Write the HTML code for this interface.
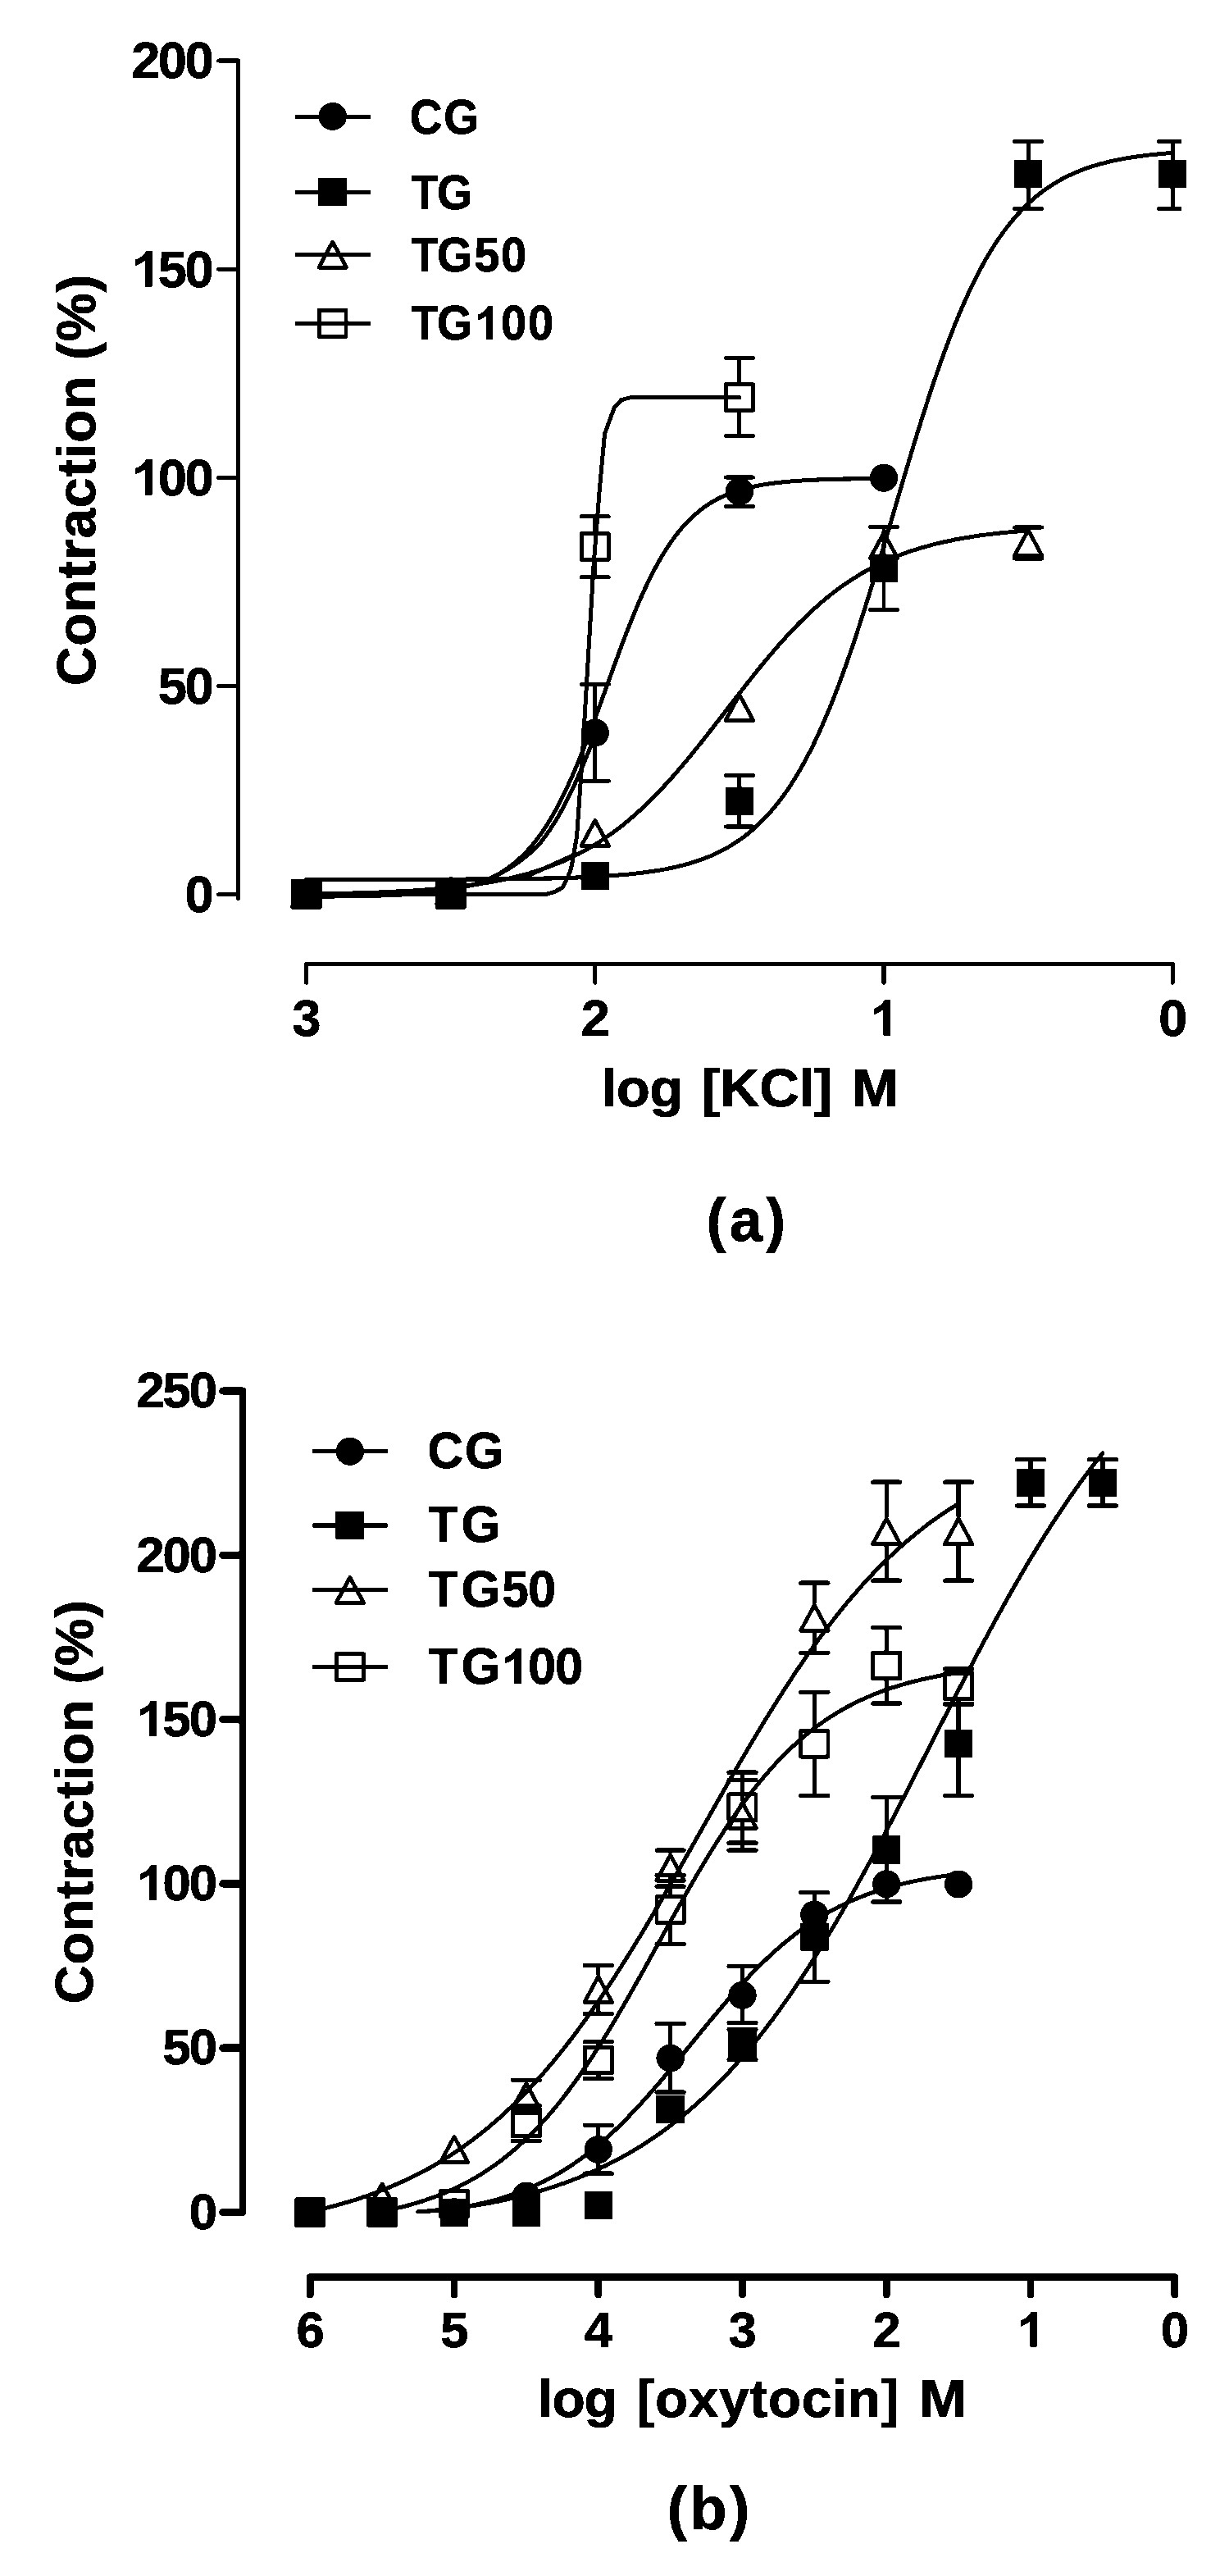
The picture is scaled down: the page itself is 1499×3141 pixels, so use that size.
<!DOCTYPE html>
<html><head><meta charset="utf-8"><title>Figure</title>
<style>html,body{margin:0;padding:0;background:#fff}body{width:1499px;height:3141px;overflow:hidden;font-family:"Liberation Sans",sans-serif}</style>
</head><body>
<svg width="1499" height="3141" viewBox="0 0 1499 3141" style="display:block" font-family="Liberation Sans, sans-serif" font-weight="bold" fill="#000" stroke="#000">
<rect width="1499" height="3141" fill="#fff" stroke="none"/>
<defs><filter id="bw" filterUnits="userSpaceOnUse" x="0" y="0" width="1499" height="3141" color-interpolation-filters="sRGB"><feComponentTransfer><feFuncR type="discrete" tableValues="0 1"/><feFuncG type="discrete" tableValues="0 1"/><feFuncB type="discrete" tableValues="0 1"/></feComponentTransfer></filter></defs>
<g filter="url(#bw)">
<rect width="1499" height="3141" fill="#fff" stroke="none"/>
<g id="A">
<line x1="290.65" y1="74" x2="290.65" y2="1095.4" stroke-width="5" stroke-linecap="round"/>
<line x1="266.6" y1="74" x2="290.65" y2="74" stroke-width="5" stroke-linecap="round"/>
<line x1="266.6" y1="328.2" x2="290.65" y2="328.2" stroke-width="5" stroke-linecap="round"/>
<line x1="266.6" y1="582.4" x2="290.65" y2="582.4" stroke-width="5" stroke-linecap="round"/>
<line x1="266.6" y1="836.6" x2="290.65" y2="836.6" stroke-width="5" stroke-linecap="round"/>
<line x1="266.6" y1="1090.8" x2="290.65" y2="1090.8" stroke-width="5" stroke-linecap="round"/>
<line x1="373.6" y1="1175.6" x2="1430.2" y2="1175.6" stroke-width="5" stroke-linecap="round"/>
<line x1="373.6" y1="1175.6" x2="373.6" y2="1198.3" stroke-width="5" stroke-linecap="round"/>
<line x1="725.8" y1="1175.6" x2="725.8" y2="1198.3" stroke-width="5" stroke-linecap="round"/>
<line x1="1078" y1="1175.6" x2="1078" y2="1198.3" stroke-width="5" stroke-linecap="round"/>
<line x1="1430.2" y1="1175.6" x2="1430.2" y2="1198.3" stroke-width="5" stroke-linecap="round"/>
<text transform="matrix(0.6320 0 0 0.6320 160.30 95.40)" font-size="100" stroke="#000" stroke-width="1.42" stroke-linejoin="round">2</text>
<text transform="matrix(0.6320 0 0 0.6320 192.85 95.40)" font-size="100" stroke="#000" stroke-width="1.42" stroke-linejoin="round">0</text>
<text transform="matrix(0.6320 0 0 0.6320 225.40 95.40)" font-size="100" stroke="#000" stroke-width="1.42" stroke-linejoin="round">0</text>
<path d="M185.63 349.60 L176.56 349.60 L176.56 318.02 Q171.60 322.32 164.85 324.37 L164.85 316.77 Q168.40 315.70 172.56 312.70 Q176.72 309.70 178.27 305.70 L185.63 305.70Z" stroke="none"/>
<text transform="matrix(0.6320 0 0 0.6320 192.85 349.60)" font-size="100" stroke="#000" stroke-width="1.42" stroke-linejoin="round">5</text>
<text transform="matrix(0.6320 0 0 0.6320 225.40 349.60)" font-size="100" stroke="#000" stroke-width="1.42" stroke-linejoin="round">0</text>
<path d="M185.63 603.80 L176.56 603.80 L176.56 572.22 Q171.60 576.52 164.85 578.57 L164.85 570.97 Q168.40 569.90 172.56 566.90 Q176.72 563.90 178.27 559.90 L185.63 559.90Z" stroke="none"/>
<text transform="matrix(0.6320 0 0 0.6320 192.85 603.80)" font-size="100" stroke="#000" stroke-width="1.42" stroke-linejoin="round">0</text>
<text transform="matrix(0.6320 0 0 0.6320 225.40 603.80)" font-size="100" stroke="#000" stroke-width="1.42" stroke-linejoin="round">0</text>
<text transform="matrix(0.6320 0 0 0.6320 192.85 858.00)" font-size="100" stroke="#000" stroke-width="1.42" stroke-linejoin="round">5</text>
<text transform="matrix(0.6320 0 0 0.6320 225.40 858.00)" font-size="100" stroke="#000" stroke-width="1.42" stroke-linejoin="round">0</text>
<text transform="matrix(0.6320 0 0 0.6320 225.40 1112.20)" font-size="100" stroke="#000" stroke-width="1.42" stroke-linejoin="round">0</text>
<text transform="matrix(0.6275 0 0 0.6275 356.60 1262.60)" font-size="100" stroke="#000" stroke-width="1.43" stroke-linejoin="round">3</text>
<text transform="matrix(0.6275 0 0 0.6275 708.80 1262.60)" font-size="100" stroke="#000" stroke-width="1.43" stroke-linejoin="round">2</text>
<path d="M1086.15 1262.60 L1077.14 1262.60 L1077.14 1231.24 Q1072.21 1235.50 1065.51 1237.55 L1065.51 1230.00 Q1069.04 1228.93 1073.17 1225.95 Q1077.30 1222.98 1078.84 1219.01 L1086.15 1219.01Z" stroke="none"/>
<text transform="matrix(0.6275 0 0 0.6275 1413.20 1262.60)" font-size="100" stroke="#000" stroke-width="1.43" stroke-linejoin="round">0</text>
<text transform="matrix(0 -0.6625 0.6625 0 116.00 836.20)" font-size="100" letter-spacing="0.895" stroke="#000" stroke-width="1.36" stroke-linejoin="round">Contraction (%)</text>
<text transform="matrix(0.6721 0 0 0.6525 733.55 1348.60)" font-size="100" letter-spacing="-0.722" stroke="#000" stroke-width="1.36" stroke-linejoin="round">log</text>
<text transform="matrix(0.6721 0 0 0.6525 855.75 1348.60)" font-size="100" letter-spacing="-0.359" stroke="#000" stroke-width="1.36" stroke-linejoin="round">[KCl]</text>
<text transform="matrix(0.6910 0 0 0.6525 1038.69 1348.60)" font-size="100" stroke="#000" stroke-width="1.34" stroke-linejoin="round">M</text>
<text transform="matrix(0.7154 0 0 0.7375 861.67 1512.60)" font-size="100" letter-spacing="6.290" stroke="#000" stroke-width="1.24" stroke-linejoin="round">(a)</text>
<line x1="360" y1="142.3" x2="452.05" y2="142.3" stroke-width="5" stroke-linecap="butt"/>
<ellipse cx="405.7" cy="141.9" rx="17.2" ry="17" stroke="none"/>
<line x1="360" y1="234.3" x2="452.05" y2="234.3" stroke-width="5" stroke-linecap="butt"/>
<rect x="388.25" y="217.1" width="34.9" height="33.8" stroke="none"/>
<line x1="360" y1="310.5" x2="452.05" y2="310.5" stroke-width="5" stroke-linecap="butt"/>
<polygon points="405.7,295 422.55,326.2 388.85,326.2" fill="none" stroke-width="4.8" stroke-linejoin="round"/>
<line x1="360" y1="394.3" x2="452.05" y2="394.3" stroke-width="5" stroke-linecap="butt"/>
<rect x="389.3" y="378.2" width="32.8" height="32.2" fill="none" stroke-width="4.8" stroke-linejoin="round"/>
<text transform="matrix(0.5481 0 0 0.5845 499.76 162.70)" font-size="100" stroke="#000" stroke-width="1.59" stroke-linejoin="round">C</text>
<text transform="matrix(0.5556 0 0 0.5845 541.13 162.70)" font-size="100" stroke="#000" stroke-width="1.58" stroke-linejoin="round">G</text>
<text transform="matrix(0.5356 0 0 0.5845 501.41 254.70)" font-size="100" stroke="#000" stroke-width="1.61" stroke-linejoin="round">T</text>
<text transform="matrix(0.5585 0 0 0.5845 533.12 254.70)" font-size="100" stroke="#000" stroke-width="1.58" stroke-linejoin="round">G</text>
<text transform="matrix(0.5356 0 0 0.5845 501.41 330.70)" font-size="100" stroke="#000" stroke-width="1.61" stroke-linejoin="round">T</text>
<text transform="matrix(0.5585 0 0 0.5845 533.12 330.70)" font-size="100" stroke="#000" stroke-width="1.58" stroke-linejoin="round">G</text>
<text transform="matrix(0.5548 0 0 0.5845 578.49 330.70)" font-size="100" stroke="#000" stroke-width="1.58" stroke-linejoin="round">5</text>
<text transform="matrix(0.5600 0 0 0.5845 611.01 330.70)" font-size="100" stroke="#000" stroke-width="1.57" stroke-linejoin="round">0</text>
<text transform="matrix(0.5356 0 0 0.5845 501.41 414.20)" font-size="100" stroke="#000" stroke-width="1.61" stroke-linejoin="round">T</text>
<text transform="matrix(0.5585 0 0 0.5845 533.12 414.20)" font-size="100" stroke="#000" stroke-width="1.58" stroke-linejoin="round">G</text>
<path d="M601.40 414.20 L593.28 414.20 L593.28 384.97 Q588.84 388.94 582.80 390.85 L582.80 383.81 Q585.98 382.81 589.70 380.04 Q593.43 377.26 594.81 373.57 L601.40 373.57Z" stroke="none"/>
<text transform="matrix(0.5600 0 0 0.5845 611.01 414.20)" font-size="100" stroke="#000" stroke-width="1.57" stroke-linejoin="round">0</text>
<text transform="matrix(0.5579 0 0 0.5845 643.92 414.20)" font-size="100" stroke="#000" stroke-width="1.58" stroke-linejoin="round">0</text>
<line x1="725.8" y1="629.8" x2="725.8" y2="648.5" stroke-width="5" stroke-linecap="butt"/>
<line x1="709.3" y1="629.8" x2="742.3" y2="629.8" stroke-width="5" stroke-linecap="round"/>
<line x1="725.8" y1="684.5" x2="725.8" y2="703.7" stroke-width="5" stroke-linecap="butt"/>
<line x1="709.3" y1="703.7" x2="742.3" y2="703.7" stroke-width="5" stroke-linecap="round"/>
<line x1="901.9" y1="436.5" x2="901.9" y2="466.5" stroke-width="5" stroke-linecap="butt"/>
<line x1="885.4" y1="436.5" x2="918.4" y2="436.5" stroke-width="5" stroke-linecap="round"/>
<line x1="901.9" y1="502.5" x2="901.9" y2="531.4" stroke-width="5" stroke-linecap="butt"/>
<line x1="885.4" y1="531.4" x2="918.4" y2="531.4" stroke-width="5" stroke-linecap="round"/>
<rect x="357" y="1074.5" width="33.2" height="31.8" fill="none" stroke-width="4.8" stroke-linejoin="round"/>
<rect x="533.1" y="1074.5" width="33.2" height="31.8" fill="none" stroke-width="4.8" stroke-linejoin="round"/>
<rect x="709.2" y="650.6" width="33.2" height="31.8" fill="none" stroke-width="4.8" stroke-linejoin="round"/>
<rect x="885.3" y="468.6" width="33.2" height="31.8" fill="none" stroke-width="4.8" stroke-linejoin="round"/>
<line x1="1254.1" y1="642.9" x2="1254.1" y2="644.5" stroke-width="5" stroke-linecap="butt"/>
<line x1="1237.6" y1="642.9" x2="1270.6" y2="642.9" stroke-width="5" stroke-linecap="round"/>
<line x1="1254.1" y1="679.5" x2="1254.1" y2="681" stroke-width="5" stroke-linecap="butt"/>
<line x1="1237.6" y1="681" x2="1270.6" y2="681" stroke-width="5" stroke-linecap="round"/>
<polygon points="373.6,1074.8 390.45,1106 356.75,1106" fill="none" stroke-width="4.8" stroke-linejoin="round"/>
<polygon points="549.7,1070.9 566.55,1102.1 532.85,1102.1" fill="none" stroke-width="4.8" stroke-linejoin="round"/>
<polygon points="725.8,1000.3 742.65,1031.5 708.95,1031.5" fill="none" stroke-width="4.8" stroke-linejoin="round"/>
<polygon points="901.9,847.2 918.75,878.4 885.05,878.4" fill="none" stroke-width="4.8" stroke-linejoin="round"/>
<polygon points="1078,649.6 1094.85,680.8 1061.15,680.8" fill="none" stroke-width="4.8" stroke-linejoin="round"/>
<polygon points="1254.1,646.4 1270.95,677.6 1237.25,677.6" fill="none" stroke-width="4.8" stroke-linejoin="round"/>
<line x1="901.9" y1="945.4" x2="901.9" y2="960.3" stroke-width="5" stroke-linecap="butt"/>
<line x1="885.4" y1="945.4" x2="918.4" y2="945.4" stroke-width="5" stroke-linecap="round"/>
<line x1="901.9" y1="993.3" x2="901.9" y2="1008.1" stroke-width="5" stroke-linecap="butt"/>
<line x1="885.4" y1="1008.1" x2="918.4" y2="1008.1" stroke-width="5" stroke-linecap="round"/>
<line x1="1078" y1="642.2" x2="1078" y2="676.35" stroke-width="5" stroke-linecap="butt"/>
<line x1="1061.5" y1="642.2" x2="1094.5" y2="642.2" stroke-width="5" stroke-linecap="round"/>
<line x1="1078" y1="709.35" x2="1078" y2="743.5" stroke-width="5" stroke-linecap="butt"/>
<line x1="1061.5" y1="743.5" x2="1094.5" y2="743.5" stroke-width="5" stroke-linecap="round"/>
<line x1="1254.1" y1="172.4" x2="1254.1" y2="195.9" stroke-width="5" stroke-linecap="butt"/>
<line x1="1237.6" y1="172.4" x2="1270.6" y2="172.4" stroke-width="5" stroke-linecap="round"/>
<line x1="1254.1" y1="228.9" x2="1254.1" y2="254.4" stroke-width="5" stroke-linecap="butt"/>
<line x1="1237.6" y1="254.4" x2="1270.6" y2="254.4" stroke-width="5" stroke-linecap="round"/>
<line x1="1430.2" y1="172.4" x2="1430.2" y2="195.9" stroke-width="5" stroke-linecap="butt"/>
<line x1="1413.7" y1="172.4" x2="1441" y2="172.4" stroke-width="5" stroke-linecap="butt"/>
<line x1="1413.7" y1="172.4" x2="1414.7" y2="172.4" stroke-width="5" stroke-linecap="round"/>
<line x1="1430.2" y1="228.9" x2="1430.2" y2="254.4" stroke-width="5" stroke-linecap="butt"/>
<line x1="1413.7" y1="254.4" x2="1441" y2="254.4" stroke-width="5" stroke-linecap="butt"/>
<line x1="1413.7" y1="254.4" x2="1414.7" y2="254.4" stroke-width="5" stroke-linecap="round"/>
<rect x="356.4" y="1073.4" width="34.4" height="34" stroke="none"/>
<rect x="532.5" y="1073.4" width="34.4" height="34" stroke="none"/>
<rect x="708.6" y="1051" width="34.4" height="34" stroke="none"/>
<rect x="884.7" y="959.8" width="34.4" height="34" stroke="none"/>
<rect x="1060.8" y="675.85" width="34.4" height="34" stroke="none"/>
<rect x="1236.9" y="195.4" width="34.4" height="34" stroke="none"/>
<rect x="1413" y="195.4" width="34.4" height="34" stroke="none"/>
<line x1="725.8" y1="834.3" x2="725.8" y2="876.9" stroke-width="5" stroke-linecap="butt"/>
<line x1="709.3" y1="834.3" x2="742.3" y2="834.3" stroke-width="5" stroke-linecap="round"/>
<line x1="725.8" y1="909.9" x2="725.8" y2="952.2" stroke-width="5" stroke-linecap="butt"/>
<line x1="709.3" y1="952.2" x2="742.3" y2="952.2" stroke-width="5" stroke-linecap="round"/>
<line x1="901.9" y1="581.9" x2="901.9" y2="582.8" stroke-width="5" stroke-linecap="butt"/>
<line x1="885.4" y1="581.9" x2="918.4" y2="581.9" stroke-width="5" stroke-linecap="round"/>
<line x1="901.9" y1="615.8" x2="901.9" y2="617.6" stroke-width="5" stroke-linecap="butt"/>
<line x1="885.4" y1="617.6" x2="918.4" y2="617.6" stroke-width="5" stroke-linecap="round"/>
<ellipse cx="373.6" cy="1090.4" rx="17.2" ry="17" stroke="none"/>
<ellipse cx="549.7" cy="1090.4" rx="17.2" ry="17" stroke="none"/>
<ellipse cx="725.8" cy="893.4" rx="17.2" ry="17" stroke="none"/>
<ellipse cx="901.9" cy="599.3" rx="17.2" ry="17" stroke="none"/>
<ellipse cx="1078" cy="582.8" rx="17.2" ry="17" stroke="none"/>
<polyline fill="none" stroke-width="5" stroke-linejoin="round" stroke-linecap="round" points="373.2,1072.42 376.73,1072.42 380.26,1072.42 383.8,1072.41 387.33,1072.41 390.86,1072.41 394.39,1072.41 397.92,1072.41 401.45,1072.41 404.99,1072.41 408.52,1072.41 412.05,1072.4 415.58,1072.4 419.11,1072.4 422.64,1072.4 426.18,1072.4 429.71,1072.4 433.24,1072.39 436.77,1072.39 440.3,1072.39 443.84,1072.39 447.37,1072.38 450.9,1072.38 454.43,1072.38 457.96,1072.37 461.49,1072.37 465.03,1072.37 468.56,1072.36 472.09,1072.36 475.62,1072.36 479.15,1072.35 482.68,1072.35 486.22,1072.34 489.75,1072.34 493.28,1072.33 496.81,1072.33 500.34,1072.32 503.88,1072.32 507.41,1072.31 510.94,1072.3 514.47,1072.3 518,1072.29 521.53,1072.28 525.07,1072.27 528.6,1072.26 532.13,1072.25 535.66,1072.24 539.19,1072.23 542.73,1072.22 546.26,1072.21 549.79,1072.2 553.32,1072.18 556.85,1072.17 560.38,1072.16 563.92,1072.14 567.45,1072.12 570.98,1072.11 574.51,1072.09 578.04,1072.07 581.57,1072.05 585.11,1072.03 588.64,1072.01 592.17,1071.98 595.7,1071.96 599.23,1071.93 602.77,1071.9 606.3,1071.87 609.83,1071.84 613.36,1071.81 616.89,1071.78 620.42,1071.74 623.96,1071.7 627.49,1071.66 631.02,1071.62 634.55,1071.57 638.08,1071.53 641.61,1071.48 645.15,1071.42 648.68,1071.37 652.21,1071.31 655.74,1071.24 659.27,1071.18 662.81,1071.11 666.34,1071.04 669.87,1070.96 673.4,1070.88 676.93,1070.79 680.46,1070.7 684,1070.61 687.53,1070.5 691.06,1070.4 694.59,1070.29 698.12,1070.17 701.65,1070.04 705.19,1069.91 708.72,1069.77 712.25,1069.62 715.78,1069.47 719.31,1069.3 722.85,1069.13 726.38,1068.95 729.91,1068.76 733.44,1068.56 736.97,1068.34 740.5,1068.12 744.04,1067.88 747.57,1067.63 751.1,1067.36 754.63,1067.08 758.16,1066.79 761.69,1066.48 765.23,1066.15 768.76,1065.81 772.29,1065.44 775.82,1065.06 779.35,1064.65 782.89,1064.23 786.42,1063.77 789.95,1063.3 793.48,1062.8 797.01,1062.27 800.54,1061.72 804.08,1061.13 807.61,1060.51 811.14,1059.86 814.67,1059.18 818.2,1058.45 821.74,1057.69 825.27,1056.89 828.8,1056.04 832.33,1055.15 835.86,1054.22 839.39,1053.23 842.93,1052.19 846.46,1051.1 849.99,1049.94 853.52,1048.73 857.05,1047.45 860.58,1046.11 864.12,1044.7 867.65,1043.21 871.18,1041.65 874.71,1040.01 878.24,1038.28 881.78,1036.47 885.31,1034.56 888.84,1032.55 892.37,1030.45 895.9,1028.24 899.43,1025.92 902.97,1023.48 906.5,1020.93 910.03,1018.25 913.56,1015.44 917.09,1012.5 920.62,1009.41 924.16,1006.18 927.69,1002.8 931.22,999.26 934.75,995.55 938.28,991.68 941.82,987.63 945.35,983.41 948.88,978.99 952.41,974.39 955.94,969.58 959.47,964.58 963.01,959.36 966.54,953.93 970.07,948.28 973.6,942.41 977.13,936.3 980.66,929.97 984.2,923.4 987.73,916.59 991.26,909.53 994.79,902.24 998.32,894.69 1001.86,886.89 1005.39,878.85 1008.92,870.56 1012.45,862.02 1015.98,853.23 1019.51,844.2 1023.05,834.93 1026.58,825.42 1030.11,815.68 1033.64,805.71 1037.17,795.53 1040.71,785.14 1044.24,774.55 1047.77,763.77 1051.3,752.8 1054.83,741.67 1058.36,730.38 1061.9,718.95 1065.43,707.4 1068.96,695.73 1072.49,683.96 1076.02,672.11 1079.55,660.2 1083.09,648.24 1086.62,636.24 1090.15,624.24 1093.68,612.24 1097.21,600.25 1100.75,588.31 1104.28,576.43 1107.81,564.61 1111.34,552.89 1114.87,541.27 1118.4,529.77 1121.94,518.4 1125.47,507.18 1129,496.13 1132.53,485.24 1136.06,474.55 1139.59,464.05 1143.13,453.75 1146.66,443.66 1150.19,433.8 1153.72,424.17 1157.25,414.77 1160.79,405.61 1164.32,396.68 1167.85,388.01 1171.38,379.58 1174.91,371.4 1178.44,363.47 1181.98,355.79 1185.51,348.36 1189.04,341.17 1192.57,334.23 1196.1,327.53 1199.63,321.06 1203.17,314.84 1206.7,308.84 1210.23,303.07 1213.76,297.52 1217.29,292.19 1220.83,287.07 1224.36,282.15 1227.89,277.44 1231.42,272.92 1234.95,268.6 1238.48,264.45 1242.02,260.48 1245.55,256.69 1249.08,253.06 1252.61,249.59 1256.14,246.28 1259.67,243.12 1263.21,240.1 1266.74,237.21 1270.27,234.47 1273.8,231.84 1277.33,229.34 1280.87,226.96 1284.4,224.69 1287.93,222.53 1291.46,220.47 1294.99,218.51 1298.52,216.65 1302.06,214.87 1305.59,213.19 1309.12,211.58 1312.65,210.05 1316.18,208.6 1319.72,207.22 1323.25,205.91 1326.78,204.66 1330.31,203.48 1333.84,202.35 1337.37,201.28 1340.91,200.27 1344.44,199.3 1347.97,198.39 1351.5,197.52 1355.03,196.69 1358.56,195.91 1362.1,195.17 1365.63,194.46 1369.16,193.79 1372.69,193.16 1376.22,192.55 1379.76,191.98 1383.29,191.44 1386.82,190.92 1390.35,190.43 1393.88,189.97 1397.41,189.53 1400.95,189.11 1404.48,188.72 1408.01,188.34 1411.54,187.99 1415.07,187.65 1418.6,187.33 1422.14,187.03 1425.67,186.74 1429.2,186.47"/>
<polyline fill="none" stroke-width="5" stroke-linejoin="round" stroke-linecap="round" points="373.2,1093.08 376.74,1093.07 380.28,1093.05 383.81,1093.04 387.35,1093.02 390.89,1093 394.43,1092.98 397.96,1092.96 401.5,1092.93 405.04,1092.91 408.58,1092.88 412.11,1092.85 415.65,1092.81 419.19,1092.78 422.73,1092.74 426.27,1092.7 429.8,1092.65 433.34,1092.61 436.88,1092.55 440.42,1092.5 443.95,1092.44 447.49,1092.37 451.03,1092.3 454.57,1092.22 458.1,1092.14 461.64,1092.05 465.18,1091.96 468.72,1091.85 472.26,1091.74 475.79,1091.62 479.33,1091.49 482.87,1091.35 486.41,1091.19 489.94,1091.03 493.48,1090.85 497.02,1090.66 500.56,1090.45 504.09,1090.23 507.63,1089.99 511.17,1089.73 514.71,1089.45 518.25,1089.15 521.78,1088.82 525.32,1088.47 528.86,1088.09 532.4,1087.68 535.93,1087.24 539.47,1086.76 543.01,1086.25 546.55,1085.7 550.08,1085.1 553.62,1084.46 557.16,1083.77 560.7,1083.03 564.24,1082.23 567.77,1081.37 571.31,1080.44 574.85,1079.44 578.39,1078.37 581.92,1077.22 585.46,1075.98 589,1074.65 592.54,1073.22 596.07,1071.68 599.61,1070.03 603.15,1068.27 606.69,1066.37 610.23,1064.35 613.76,1062.17 617.3,1059.85 620.84,1057.37 624.38,1054.71 627.91,1051.88 631.45,1048.86 634.99,1045.64 638.53,1042.21 642.06,1038.57 645.6,1034.7 649.14,1030.59 652.68,1026.24 656.22,1021.63 659.75,1016.76 663.29,1011.62 666.83,1006.21 670.37,1000.51 673.9,994.53 677.44,988.26 680.98,981.7 684.52,974.84 688.05,967.71 691.59,960.28 695.13,952.58 698.67,944.61 702.21,936.38 705.74,927.9 709.28,919.18 712.82,910.26 716.36,901.13 719.89,891.84 723.43,882.39 726.97,872.81 730.51,863.13 734.04,853.38 737.58,843.59 741.12,833.78 744.66,823.98 748.19,814.22 751.73,804.54 755.27,794.95 758.81,785.49 762.35,776.17 765.88,767.03 769.42,758.08 772.96,749.35 776.5,740.85 780.03,732.59 783.57,724.59 787.11,716.86 790.65,709.41 794.18,702.24 797.72,695.36 801.26,688.77 804.8,682.47 808.34,676.46 811.87,670.74 815.41,665.3 818.95,660.13 822.49,655.23 826.02,650.6 829.56,646.22 833.1,642.09 836.64,638.2 840.17,634.53 843.71,631.08 847.25,627.84 850.79,624.8 854.33,621.95 857.86,619.28 861.4,616.78 864.94,614.44 868.48,612.25 872.01,610.21 875.55,608.31 879.09,606.53 882.63,604.87 886.16,603.32 889.7,601.88 893.24,600.54 896.78,599.29 900.32,598.13 903.85,597.05 907.39,596.05 910.93,595.11 914.47,594.24 918,593.44 921.54,592.69 925.08,591.99 928.62,591.35 932.15,590.75 935.69,590.19 939.23,589.68 942.77,589.2 946.31,588.75 949.84,588.34 953.38,587.96 956.92,587.6 960.46,587.28 963.99,586.97 967.53,586.69 971.07,586.43 974.61,586.18 978.14,585.96 981.68,585.75 985.22,585.56 988.76,585.38 992.3,585.21 995.83,585.06 999.37,584.92 1002.91,584.79 1006.45,584.66 1009.98,584.55 1013.52,584.45 1017.06,584.35 1020.6,584.26 1024.13,584.18 1027.67,584.1 1031.21,584.03 1034.75,583.96 1038.29,583.9 1041.82,583.84 1045.36,583.79 1048.9,583.74 1052.44,583.7 1055.97,583.65 1059.51,583.62 1063.05,583.58 1066.59,583.55 1070.12,583.52 1073.66,583.49 1077.2,583.46"/>
<polyline fill="none" stroke-width="5" stroke-linejoin="round" stroke-linecap="round" points="596.13,1071.68 599.98,1070.03 603.85,1068.27 607.74,1066.37 611.66,1064.35 615.61,1062.17 619.58,1059.85 623.58,1057.37 627.62,1054.71 631.69,1051.88 635.79,1048.86 639.93,1045.64 644.11,1042.21 648.33,1038.57 652.6,1034.7 656.64,1030.59 660.18,1026.24 663.72,1021.63 667.25,1016.76 670.79,1011.62 674.33,1006.21 677.87,1000.51 681.4,994.53 684.94,988.26 688.48,981.7 692.02,974.84 695.55,967.71 699.09,960.28 702.63,952.58 706.17,944.61 709.71,936.38 713.24,927.9 716.78,919.18 720.32,910.26 723.86,901.13"/>
<polyline fill="none" stroke-width="5" stroke-linejoin="round" stroke-linecap="round" points="373.2,1090.18 376.73,1090.13 380.27,1090.08 383.8,1090.03 387.34,1089.97 390.87,1089.91 394.4,1089.85 397.94,1089.78 401.47,1089.71 405.01,1089.64 408.54,1089.57 412.08,1089.49 415.61,1089.41 419.14,1089.33 422.68,1089.24 426.21,1089.15 429.75,1089.06 433.28,1088.96 436.81,1088.86 440.35,1088.76 443.88,1088.65 447.42,1088.53 450.95,1088.42 454.49,1088.29 458.02,1088.16 461.55,1088.03 465.09,1087.89 468.62,1087.74 472.16,1087.59 475.69,1087.44 479.22,1087.27 482.76,1087.1 486.29,1086.92 489.83,1086.74 493.36,1086.55 496.89,1086.35 500.43,1086.14 503.96,1085.92 507.5,1085.7 511.03,1085.46 514.57,1085.22 518.1,1084.97 521.63,1084.7 525.17,1084.43 528.7,1084.14 532.24,1083.85 535.77,1083.54 539.3,1083.22 542.84,1082.88 546.37,1082.54 549.91,1082.17 553.44,1081.8 556.98,1081.41 560.51,1081 564.04,1080.58 567.58,1080.14 571.11,1079.69 574.65,1079.21 578.18,1078.72 581.71,1078.21 585.25,1077.68 588.78,1077.13 592.32,1076.55 595.85,1075.96 599.38,1075.34 602.92,1074.69 606.45,1074.03 609.99,1073.33 613.52,1072.61 617.06,1071.87 620.59,1071.09 624.12,1070.29 627.66,1069.45 631.19,1068.59 634.73,1067.69 638.26,1066.76 641.79,1065.8 645.33,1064.79 648.86,1063.76 652.4,1062.68 655.93,1061.57 659.47,1060.41 663,1059.22 666.53,1057.98 670.07,1056.7 673.6,1055.38 677.14,1054 680.67,1052.58 684.2,1051.12 687.74,1049.6 691.27,1048.03 694.81,1046.41 698.34,1044.73 701.87,1043 705.41,1041.22 708.94,1039.37 712.48,1037.47 716.01,1035.51 719.55,1033.49 723.08,1031.4 726.61,1029.25 730.15,1027.04 733.68,1024.77 737.22,1022.42 740.75,1020.01 744.28,1017.53 747.82,1014.99 751.35,1012.37 754.89,1009.68 758.42,1006.93 761.96,1004.1 765.49,1001.2 769.02,998.23 772.56,995.18 776.09,992.07 779.63,988.88 783.16,985.63 786.69,982.3 790.23,978.9 793.76,975.43 797.3,971.89 800.83,968.28 804.36,964.61 807.9,960.87 811.43,957.06 814.97,953.2 818.5,949.27 822.04,945.28 825.57,941.23 829.1,937.13 832.64,932.98 836.17,928.77 839.71,924.52 843.24,920.22 846.77,915.88 850.31,911.5 853.84,907.09 857.38,902.64 860.91,898.16 864.44,893.66 867.98,889.13 871.51,884.59 875.05,880.03 878.58,875.46 882.12,870.88 885.65,866.29 889.18,861.71 892.72,857.13 896.25,852.55 899.79,847.99 903.32,843.44 906.85,838.92 910.39,834.41 913.92,829.93 917.46,825.48 920.99,821.06 924.53,816.67 928.06,812.33 931.59,808.02 935.13,803.76 938.66,799.55 942.2,795.39 945.73,791.28 949.26,787.23 952.8,783.23 956.33,779.3 959.87,775.42 963.4,771.61 966.93,767.86 970.47,764.18 974,760.56 977.54,757.01 981.07,753.53 984.61,750.12 988.14,746.79 991.67,743.52 995.21,740.32 998.74,737.2 1002.28,734.15 1005.81,731.17 1009.34,728.26 1012.88,725.42 1016.41,722.65 1019.95,719.96 1023.48,717.33 1027.02,714.77 1030.55,712.29 1034.08,709.87 1037.62,707.51 1041.15,705.23 1044.69,703.01 1048.22,700.85 1051.75,698.76 1055.29,696.73 1058.82,694.76 1062.36,692.85 1065.89,691 1069.42,689.2 1072.96,687.46 1076.49,685.78 1080.03,684.15 1083.56,682.58 1087.1,681.05 1090.63,679.58 1094.16,678.15 1097.7,676.77 1101.23,675.44 1104.77,674.15 1108.3,672.91 1111.83,671.71 1115.37,670.55 1118.9,669.43 1122.44,668.35 1125.97,667.31 1129.51,666.3 1133.04,665.33 1136.57,664.4 1140.11,663.5 1143.64,662.63 1147.18,661.79 1150.71,660.98 1154.24,660.2 1157.78,659.45 1161.31,658.73 1164.85,658.03 1168.38,657.36 1171.91,656.71 1175.45,656.09 1178.98,655.49 1182.52,654.92 1186.05,654.36 1189.59,653.83 1193.12,653.31 1196.65,652.82 1200.19,652.34 1203.72,651.88 1207.26,651.44 1210.79,651.02 1214.32,650.61 1217.86,650.22 1221.39,649.84 1224.93,649.48 1228.46,649.13 1232,648.79 1235.53,648.47 1239.06,648.16 1242.6,647.86 1246.13,647.58 1249.67,647.3 1253.2,647.03"/>
<polyline fill="none" stroke-width="5" stroke-linejoin="round" stroke-linecap="round" points="640.6,1069.5 697,1043.8"/>
<polyline fill="none" stroke-width="5" stroke-linejoin="round" stroke-linecap="round" points="373.6,1090.4 666,1090.4 677,1087.3 686.5,1082 692.4,1069.8 696.6,1059 699.5,1043 703.5,1020 709.5,935 713,876 724,690 731,600 737.5,529 749.5,496.4 758,487.5 771,484.4 901.9,484.4"/>
</g>
<g id="B">
<line x1="295.8" y1="1696" x2="295.8" y2="2697.5" stroke-width="8.5" stroke-linecap="round"/>
<line x1="271.8" y1="1696" x2="295.8" y2="1696" stroke-width="9.2" stroke-linecap="round"/>
<line x1="271.8" y1="1896.3" x2="295.8" y2="1896.3" stroke-width="9.2" stroke-linecap="round"/>
<line x1="271.8" y1="2096.6" x2="295.8" y2="2096.6" stroke-width="9.2" stroke-linecap="round"/>
<line x1="271.8" y1="2296.9" x2="295.8" y2="2296.9" stroke-width="9.2" stroke-linecap="round"/>
<line x1="271.8" y1="2497.2" x2="295.8" y2="2497.2" stroke-width="9.2" stroke-linecap="round"/>
<line x1="271.8" y1="2697.5" x2="295.8" y2="2697.5" stroke-width="9.2" stroke-linecap="round"/>
<line x1="378.18" y1="2776.8" x2="1432.8" y2="2776.8" stroke-width="8.5" stroke-linecap="round"/>
<line x1="378.18" y1="2776.8" x2="378.18" y2="2798.2" stroke-width="8.8" stroke-linecap="round"/>
<line x1="553.95" y1="2776.8" x2="553.95" y2="2798.2" stroke-width="8.8" stroke-linecap="round"/>
<line x1="729.72" y1="2776.8" x2="729.72" y2="2798.2" stroke-width="8.8" stroke-linecap="round"/>
<line x1="905.49" y1="2776.8" x2="905.49" y2="2798.2" stroke-width="8.8" stroke-linecap="round"/>
<line x1="1081.26" y1="2776.8" x2="1081.26" y2="2798.2" stroke-width="8.8" stroke-linecap="round"/>
<line x1="1257.03" y1="2776.8" x2="1257.03" y2="2798.2" stroke-width="8.8" stroke-linecap="round"/>
<line x1="1432.8" y1="2776.8" x2="1432.8" y2="2798.2" stroke-width="8.8" stroke-linecap="round"/>
<text transform="matrix(0.6165 0 0 0.6165 166.13 1716.27)" font-size="100" stroke="#000" stroke-width="1.46" stroke-linejoin="round">2</text>
<text transform="matrix(0.6165 0 0 0.6165 198.41 1716.27)" font-size="100" stroke="#000" stroke-width="1.46" stroke-linejoin="round">5</text>
<text transform="matrix(0.6165 0 0 0.6165 230.70 1716.27)" font-size="100" stroke="#000" stroke-width="1.46" stroke-linejoin="round">0</text>
<text transform="matrix(0.6165 0 0 0.6165 166.13 1916.57)" font-size="100" stroke="#000" stroke-width="1.46" stroke-linejoin="round">2</text>
<text transform="matrix(0.6165 0 0 0.6165 198.41 1916.57)" font-size="100" stroke="#000" stroke-width="1.46" stroke-linejoin="round">0</text>
<text transform="matrix(0.6165 0 0 0.6165 230.70 1916.57)" font-size="100" stroke="#000" stroke-width="1.46" stroke-linejoin="round">0</text>
<path d="M190.84 2116.87 L181.99 2116.87 L181.99 2086.06 Q177.14 2090.25 170.55 2092.25 L170.55 2084.83 Q174.02 2083.79 178.08 2080.86 Q182.15 2077.94 183.66 2074.04 L190.84 2074.04Z" stroke="none"/>
<text transform="matrix(0.6165 0 0 0.6165 198.41 2116.87)" font-size="100" stroke="#000" stroke-width="1.46" stroke-linejoin="round">5</text>
<text transform="matrix(0.6165 0 0 0.6165 230.70 2116.87)" font-size="100" stroke="#000" stroke-width="1.46" stroke-linejoin="round">0</text>
<path d="M190.84 2317.17 L181.99 2317.17 L181.99 2286.36 Q177.14 2290.55 170.55 2292.55 L170.55 2285.13 Q174.02 2284.09 178.08 2281.16 Q182.15 2278.24 183.66 2274.34 L190.84 2274.34Z" stroke="none"/>
<text transform="matrix(0.6165 0 0 0.6165 198.41 2317.17)" font-size="100" stroke="#000" stroke-width="1.46" stroke-linejoin="round">0</text>
<text transform="matrix(0.6165 0 0 0.6165 230.70 2317.17)" font-size="100" stroke="#000" stroke-width="1.46" stroke-linejoin="round">0</text>
<text transform="matrix(0.6165 0 0 0.6165 198.41 2517.47)" font-size="100" stroke="#000" stroke-width="1.46" stroke-linejoin="round">5</text>
<text transform="matrix(0.6165 0 0 0.6165 230.70 2517.47)" font-size="100" stroke="#000" stroke-width="1.46" stroke-linejoin="round">0</text>
<text transform="matrix(0.6165 0 0 0.6165 230.70 2717.77)" font-size="100" stroke="#000" stroke-width="1.46" stroke-linejoin="round">0</text>
<text transform="matrix(0.6135 0 0 0.6135 361.42 2861.50)" font-size="100" stroke="#000" stroke-width="1.47" stroke-linejoin="round">6</text>
<text transform="matrix(0.6135 0 0 0.6135 537.19 2861.50)" font-size="100" stroke="#000" stroke-width="1.47" stroke-linejoin="round">5</text>
<text transform="matrix(0.6135 0 0 0.6135 712.96 2861.50)" font-size="100" stroke="#000" stroke-width="1.47" stroke-linejoin="round">4</text>
<text transform="matrix(0.6135 0 0 0.6135 888.73 2861.50)" font-size="100" stroke="#000" stroke-width="1.47" stroke-linejoin="round">3</text>
<text transform="matrix(0.6135 0 0 0.6135 1064.50 2861.50)" font-size="100" stroke="#000" stroke-width="1.47" stroke-linejoin="round">2</text>
<path d="M1264.86 2861.50 L1256.05 2861.50 L1256.05 2830.83 Q1251.23 2835.00 1244.67 2837.00 L1244.67 2829.62 Q1248.12 2828.57 1252.17 2825.66 Q1256.21 2822.75 1257.72 2818.87 L1264.86 2818.87Z" stroke="none"/>
<text transform="matrix(0.6135 0 0 0.6135 1416.04 2861.50)" font-size="100" stroke="#000" stroke-width="1.47" stroke-linejoin="round">0</text>
<text transform="matrix(0 -0.6505 0.6505 0 112.80 2443.15)" font-size="100" letter-spacing="0.859" stroke="#000" stroke-width="1.38" stroke-linejoin="round">Contraction (%)</text>
<text transform="matrix(0.6597 0 0 0.6405 656.33 2946.60)" font-size="100" letter-spacing="-1.808" stroke="#000" stroke-width="1.38" stroke-linejoin="round">log</text>
<text transform="matrix(0.6597 0 0 0.6405 776.42 2946.60)" font-size="100" letter-spacing="0.855" stroke="#000" stroke-width="1.38" stroke-linejoin="round">[oxytocin]</text>
<text transform="matrix(0.6896 0 0 0.6405 1121.20 2946.60)" font-size="100" stroke="#000" stroke-width="1.35" stroke-linejoin="round">M</text>
<text transform="matrix(0.7375 0 0 0.7375 813.66 3084.40)" font-size="100" letter-spacing="4.311" stroke="#000" stroke-width="1.22" stroke-linejoin="round">(b)</text>
<line x1="381.3" y1="1769.5" x2="472.8" y2="1769.5" stroke-width="5" stroke-linecap="butt"/>
<ellipse cx="426.8" cy="1769.8" rx="17.2" ry="17" stroke="none"/>
<line x1="381.3" y1="1860" x2="472.8" y2="1860" stroke-width="5" stroke-linecap="butt"/>
<rect x="409.3" y="1842.7" width="35" height="34" stroke="none"/>
<line x1="381.3" y1="1938.3" x2="472.8" y2="1938.3" stroke-width="5" stroke-linecap="butt"/>
<polygon points="426.8,1923.3 443.65,1954.5 409.95,1954.5" fill="none" stroke-width="4.8" stroke-linejoin="round"/>
<line x1="381.3" y1="2032.4" x2="472.8" y2="2032.4" stroke-width="5" stroke-linecap="butt"/>
<rect x="410.1" y="2016.75" width="33.4" height="31.7" fill="none" stroke-width="4.8" stroke-linejoin="round"/>
<text transform="matrix(0.6015 0 0 0.6235 521.54 1790.10)" font-size="100" stroke="#000" stroke-width="1.47" stroke-linejoin="round">C</text>
<text transform="matrix(0.6133 0 0 0.6235 567.00 1790.10)" font-size="100" stroke="#000" stroke-width="1.46" stroke-linejoin="round">G</text>
<text transform="matrix(0.5831 0 0 0.6235 522.67 1880.40)" font-size="100" stroke="#000" stroke-width="1.49" stroke-linejoin="round">T</text>
<text transform="matrix(0.6207 0 0 0.6235 562.57 1880.40)" font-size="100" stroke="#000" stroke-width="1.45" stroke-linejoin="round">G</text>
<text transform="matrix(0.5831 0 0 0.6235 522.67 1959.20)" font-size="100" stroke="#000" stroke-width="1.49" stroke-linejoin="round">T</text>
<text transform="matrix(0.6207 0 0 0.6235 562.57 1959.20)" font-size="100" stroke="#000" stroke-width="1.45" stroke-linejoin="round">G</text>
<text transform="matrix(0.5809 0 0 0.6235 612.51 1959.20)" font-size="100" stroke="#000" stroke-width="1.50" stroke-linejoin="round">5</text>
<text transform="matrix(0.6147 0 0 0.6235 643.99 1959.20)" font-size="100" stroke="#000" stroke-width="1.45" stroke-linejoin="round">0</text>
<text transform="matrix(0.5831 0 0 0.6235 522.67 2053.30)" font-size="100" stroke="#000" stroke-width="1.49" stroke-linejoin="round">T</text>
<text transform="matrix(0.6207 0 0 0.6235 562.57 2053.30)" font-size="100" stroke="#000" stroke-width="1.45" stroke-linejoin="round">G</text>
<path d="M636.20 2053.30 L627.34 2053.30 L627.34 2022.14 Q622.49 2026.37 615.90 2028.41 L615.90 2020.90 Q619.37 2019.84 623.43 2016.88 Q627.50 2013.93 629.01 2009.98 L636.20 2009.98Z" stroke="none"/>
<text transform="matrix(0.6147 0 0 0.6235 643.99 2053.30)" font-size="100" stroke="#000" stroke-width="1.45" stroke-linejoin="round">0</text>
<text transform="matrix(0.6126 0 0 0.6235 677.00 2053.30)" font-size="100" stroke="#000" stroke-width="1.46" stroke-linejoin="round">0</text>
<line x1="641.83" y1="2567.5" x2="641.83" y2="2571" stroke-width="5.3" stroke-linecap="butt"/>
<line x1="625.38" y1="2567.5" x2="658.28" y2="2567.5" stroke-width="5.3" stroke-linecap="round"/>
<line x1="641.83" y1="2607" x2="641.83" y2="2610.4" stroke-width="5.3" stroke-linecap="butt"/>
<line x1="625.38" y1="2610.4" x2="658.28" y2="2610.4" stroke-width="5.3" stroke-linecap="round"/>
<line x1="729.72" y1="2489.6" x2="729.72" y2="2494" stroke-width="5.3" stroke-linecap="butt"/>
<line x1="713.27" y1="2489.6" x2="746.17" y2="2489.6" stroke-width="5.3" stroke-linecap="round"/>
<line x1="729.72" y1="2530" x2="729.72" y2="2534.4" stroke-width="5.3" stroke-linecap="butt"/>
<line x1="713.27" y1="2534.4" x2="746.17" y2="2534.4" stroke-width="5.3" stroke-linecap="round"/>
<line x1="817.6" y1="2286.4" x2="817.6" y2="2310.6" stroke-width="5.3" stroke-linecap="butt"/>
<line x1="801.15" y1="2286.4" x2="834.05" y2="2286.4" stroke-width="5.3" stroke-linecap="round"/>
<line x1="817.6" y1="2346.6" x2="817.6" y2="2370.5" stroke-width="5.3" stroke-linecap="butt"/>
<line x1="801.15" y1="2370.5" x2="834.05" y2="2370.5" stroke-width="5.3" stroke-linecap="round"/>
<line x1="905.49" y1="2161.2" x2="905.49" y2="2185.8" stroke-width="5.3" stroke-linecap="butt"/>
<line x1="889.04" y1="2161.2" x2="921.94" y2="2161.2" stroke-width="5.3" stroke-linecap="round"/>
<line x1="905.49" y1="2221.8" x2="905.49" y2="2247.2" stroke-width="5.3" stroke-linecap="butt"/>
<line x1="889.04" y1="2247.2" x2="921.94" y2="2247.2" stroke-width="5.3" stroke-linecap="round"/>
<line x1="993.38" y1="2063.3" x2="993.38" y2="2108.3" stroke-width="5.3" stroke-linecap="butt"/>
<line x1="976.92" y1="2063.3" x2="1009.83" y2="2063.3" stroke-width="5.3" stroke-linecap="round"/>
<line x1="993.38" y1="2144.3" x2="993.38" y2="2189.4" stroke-width="5.3" stroke-linecap="butt"/>
<line x1="976.92" y1="2189.4" x2="1009.83" y2="2189.4" stroke-width="5.3" stroke-linecap="round"/>
<line x1="1081.26" y1="1984.6" x2="1081.26" y2="2013" stroke-width="5.3" stroke-linecap="butt"/>
<line x1="1064.81" y1="1984.6" x2="1097.71" y2="1984.6" stroke-width="5.3" stroke-linecap="round"/>
<line x1="1081.26" y1="2049" x2="1081.26" y2="2076.9" stroke-width="5.3" stroke-linecap="butt"/>
<line x1="1064.81" y1="2076.9" x2="1097.71" y2="2076.9" stroke-width="5.3" stroke-linecap="round"/>
<line x1="1169.14" y1="2035" x2="1169.14" y2="2038" stroke-width="5.3" stroke-linecap="butt"/>
<line x1="1152.69" y1="2035" x2="1185.6" y2="2035" stroke-width="5.3" stroke-linecap="round"/>
<line x1="1169.14" y1="2074" x2="1169.14" y2="2078" stroke-width="5.3" stroke-linecap="butt"/>
<line x1="1152.69" y1="2078" x2="1185.6" y2="2078" stroke-width="5.3" stroke-linecap="round"/>
<rect x="361.58" y="2681.6" width="33.2" height="31.8" fill="none" stroke-width="4.8" stroke-linejoin="round"/>
<rect x="449.46" y="2681.6" width="33.2" height="31.8" fill="none" stroke-width="4.8" stroke-linejoin="round"/>
<rect x="537.35" y="2671.1" width="33.2" height="31.8" fill="none" stroke-width="4.8" stroke-linejoin="round"/>
<rect x="625.23" y="2573.1" width="33.2" height="31.8" fill="none" stroke-width="4.8" stroke-linejoin="round"/>
<rect x="713.12" y="2496.1" width="33.2" height="31.8" fill="none" stroke-width="4.8" stroke-linejoin="round"/>
<rect x="801" y="2312.7" width="33.2" height="31.8" fill="none" stroke-width="4.8" stroke-linejoin="round"/>
<rect x="888.89" y="2187.9" width="33.2" height="31.8" fill="none" stroke-width="4.8" stroke-linejoin="round"/>
<rect x="976.77" y="2110.4" width="33.2" height="31.8" fill="none" stroke-width="4.8" stroke-linejoin="round"/>
<rect x="1064.66" y="2015.1" width="33.2" height="31.8" fill="none" stroke-width="4.8" stroke-linejoin="round"/>
<rect x="1152.55" y="2040.1" width="33.2" height="31.8" fill="none" stroke-width="4.8" stroke-linejoin="round"/>
<line x1="641.83" y1="2536.3" x2="641.83" y2="2538.5" stroke-width="5.3" stroke-linecap="butt"/>
<line x1="625.38" y1="2536.3" x2="658.28" y2="2536.3" stroke-width="5.3" stroke-linecap="round"/>
<line x1="641.83" y1="2573.5" x2="641.83" y2="2576" stroke-width="5.3" stroke-linecap="butt"/>
<line x1="625.38" y1="2576" x2="658.28" y2="2576" stroke-width="5.3" stroke-linecap="round"/>
<line x1="729.72" y1="2396.4" x2="729.72" y2="2408.3" stroke-width="5.3" stroke-linecap="butt"/>
<line x1="713.27" y1="2396.4" x2="746.17" y2="2396.4" stroke-width="5.3" stroke-linecap="round"/>
<line x1="729.72" y1="2443.3" x2="729.72" y2="2455.4" stroke-width="5.3" stroke-linecap="butt"/>
<line x1="713.27" y1="2455.4" x2="746.17" y2="2455.4" stroke-width="5.3" stroke-linecap="round"/>
<line x1="817.6" y1="2256.1" x2="817.6" y2="2260" stroke-width="5.3" stroke-linecap="butt"/>
<line x1="801.15" y1="2256.1" x2="834.05" y2="2256.1" stroke-width="5.3" stroke-linecap="round"/>
<line x1="817.6" y1="2295" x2="817.6" y2="2300.2" stroke-width="5.3" stroke-linecap="butt"/>
<line x1="801.15" y1="2300.2" x2="834.05" y2="2300.2" stroke-width="5.3" stroke-linecap="round"/>
<line x1="905.49" y1="2170.7" x2="905.49" y2="2196" stroke-width="5.3" stroke-linecap="butt"/>
<line x1="889.04" y1="2170.7" x2="921.94" y2="2170.7" stroke-width="5.3" stroke-linecap="round"/>
<line x1="905.49" y1="2231" x2="905.49" y2="2256.1" stroke-width="5.3" stroke-linecap="butt"/>
<line x1="889.04" y1="2256.1" x2="921.94" y2="2256.1" stroke-width="5.3" stroke-linecap="round"/>
<line x1="993.38" y1="1930.2" x2="993.38" y2="1955.2" stroke-width="5.3" stroke-linecap="butt"/>
<line x1="976.92" y1="1930.2" x2="1009.83" y2="1930.2" stroke-width="5.3" stroke-linecap="round"/>
<line x1="993.38" y1="1990.2" x2="993.38" y2="2015.3" stroke-width="5.3" stroke-linecap="butt"/>
<line x1="976.92" y1="2015.3" x2="1009.83" y2="2015.3" stroke-width="5.3" stroke-linecap="round"/>
<line x1="1081.26" y1="1807.2" x2="1081.26" y2="1849.8" stroke-width="5.3" stroke-linecap="butt"/>
<line x1="1064.81" y1="1807.2" x2="1097.71" y2="1807.2" stroke-width="5.3" stroke-linecap="round"/>
<line x1="1081.26" y1="1884.8" x2="1081.26" y2="1927.2" stroke-width="5.3" stroke-linecap="butt"/>
<line x1="1064.81" y1="1927.2" x2="1097.71" y2="1927.2" stroke-width="5.3" stroke-linecap="round"/>
<line x1="1169.14" y1="1807.2" x2="1169.14" y2="1849.8" stroke-width="5.3" stroke-linecap="butt"/>
<line x1="1152.69" y1="1807.2" x2="1185.6" y2="1807.2" stroke-width="5.3" stroke-linecap="round"/>
<line x1="1169.14" y1="1884.8" x2="1169.14" y2="1927.2" stroke-width="5.3" stroke-linecap="butt"/>
<line x1="1152.69" y1="1927.2" x2="1185.6" y2="1927.2" stroke-width="5.3" stroke-linecap="round"/>
<polygon points="378.18,2681.9 395.03,2713.1 361.33,2713.1" fill="none" stroke-width="4.8" stroke-linejoin="round"/>
<polygon points="466.06,2662.9 482.91,2694.1 449.21,2694.1" fill="none" stroke-width="4.8" stroke-linejoin="round"/>
<polygon points="553.95,2605.4 570.8,2636.6 537.1,2636.6" fill="none" stroke-width="4.8" stroke-linejoin="round"/>
<polygon points="641.83,2540.4 658.68,2571.6 624.98,2571.6" fill="none" stroke-width="4.8" stroke-linejoin="round"/>
<polygon points="729.72,2410.2 746.57,2441.4 712.87,2441.4" fill="none" stroke-width="4.8" stroke-linejoin="round"/>
<polygon points="817.6,2261.9 834.45,2293.1 800.75,2293.1" fill="none" stroke-width="4.8" stroke-linejoin="round"/>
<polygon points="905.49,2197.9 922.34,2229.1 888.64,2229.1" fill="none" stroke-width="4.8" stroke-linejoin="round"/>
<polygon points="993.38,1957.1 1010.23,1988.3 976.52,1988.3" fill="none" stroke-width="4.8" stroke-linejoin="round"/>
<polygon points="1081.26,1851.7 1098.11,1882.9 1064.41,1882.9" fill="none" stroke-width="4.8" stroke-linejoin="round"/>
<polygon points="1169.14,1851.7 1185.99,1882.9 1152.3,1882.9" fill="none" stroke-width="4.8" stroke-linejoin="round"/>
<line x1="905.49" y1="2474.5" x2="905.49" y2="2476.5" stroke-width="5.3" stroke-linecap="butt"/>
<line x1="889.04" y1="2474.5" x2="921.94" y2="2474.5" stroke-width="5.3" stroke-linecap="round"/>
<line x1="905.49" y1="2509.5" x2="905.49" y2="2511.5" stroke-width="5.3" stroke-linecap="butt"/>
<line x1="889.04" y1="2511.5" x2="921.94" y2="2511.5" stroke-width="5.3" stroke-linecap="round"/>
<line x1="993.38" y1="2307.6" x2="993.38" y2="2345.1" stroke-width="5.3" stroke-linecap="butt"/>
<line x1="976.92" y1="2307.6" x2="1009.83" y2="2307.6" stroke-width="5.3" stroke-linecap="round"/>
<line x1="993.38" y1="2378.1" x2="993.38" y2="2416.3" stroke-width="5.3" stroke-linecap="butt"/>
<line x1="976.92" y1="2416.3" x2="1009.83" y2="2416.3" stroke-width="5.3" stroke-linecap="round"/>
<line x1="1081.26" y1="2191.4" x2="1081.26" y2="2239" stroke-width="5.3" stroke-linecap="butt"/>
<line x1="1064.81" y1="2191.4" x2="1097.71" y2="2191.4" stroke-width="5.3" stroke-linecap="round"/>
<line x1="1081.26" y1="2272" x2="1081.26" y2="2319" stroke-width="5.3" stroke-linecap="butt"/>
<line x1="1064.81" y1="2319" x2="1097.71" y2="2319" stroke-width="5.3" stroke-linecap="round"/>
<line x1="1169.14" y1="2077.5" x2="1169.14" y2="2109.8" stroke-width="5.3" stroke-linecap="butt"/>
<line x1="1152.69" y1="2077.5" x2="1185.6" y2="2077.5" stroke-width="5.3" stroke-linecap="round"/>
<line x1="1169.14" y1="2142.8" x2="1169.14" y2="2189.5" stroke-width="5.3" stroke-linecap="butt"/>
<line x1="1152.69" y1="2189.5" x2="1185.6" y2="2189.5" stroke-width="5.3" stroke-linecap="round"/>
<line x1="1257.03" y1="1779.7" x2="1257.03" y2="1791.4" stroke-width="5.3" stroke-linecap="butt"/>
<line x1="1240.58" y1="1779.7" x2="1273.48" y2="1779.7" stroke-width="5.3" stroke-linecap="round"/>
<line x1="1257.03" y1="1824.4" x2="1257.03" y2="1836" stroke-width="5.3" stroke-linecap="butt"/>
<line x1="1240.58" y1="1836" x2="1273.48" y2="1836" stroke-width="5.3" stroke-linecap="round"/>
<line x1="1344.91" y1="1779.7" x2="1344.91" y2="1791.4" stroke-width="5.3" stroke-linecap="butt"/>
<line x1="1328.46" y1="1779.7" x2="1361.37" y2="1779.7" stroke-width="5.3" stroke-linecap="round"/>
<line x1="1344.91" y1="1824.4" x2="1344.91" y2="1836" stroke-width="5.3" stroke-linecap="butt"/>
<line x1="1328.46" y1="1836" x2="1361.37" y2="1836" stroke-width="5.3" stroke-linecap="round"/>
<rect x="360.98" y="2680.7" width="34.4" height="34" stroke="none"/>
<rect x="448.86" y="2680.7" width="34.4" height="34" stroke="none"/>
<rect x="536.75" y="2680.7" width="34.4" height="34" stroke="none"/>
<rect x="624.63" y="2680.7" width="34.4" height="34" stroke="none"/>
<rect x="712.52" y="2672.3" width="34.4" height="34" stroke="none"/>
<rect x="800.4" y="2554.9" width="34.4" height="34" stroke="none"/>
<rect x="888.29" y="2476" width="34.4" height="34" stroke="none"/>
<rect x="976.17" y="2344.6" width="34.4" height="34" stroke="none"/>
<rect x="1064.06" y="2238.5" width="34.4" height="34" stroke="none"/>
<rect x="1151.94" y="2109.3" width="34.4" height="34" stroke="none"/>
<rect x="1239.83" y="1790.9" width="34.4" height="34" stroke="none"/>
<rect x="1327.71" y="1790.9" width="34.4" height="34" stroke="none"/>
<line x1="729.72" y1="2591.3" x2="729.72" y2="2604.5" stroke-width="5.3" stroke-linecap="butt"/>
<line x1="713.27" y1="2591.3" x2="746.17" y2="2591.3" stroke-width="5.3" stroke-linecap="round"/>
<line x1="729.72" y1="2637.5" x2="729.72" y2="2650.2" stroke-width="5.3" stroke-linecap="butt"/>
<line x1="713.27" y1="2650.2" x2="746.17" y2="2650.2" stroke-width="5.3" stroke-linecap="round"/>
<line x1="817.6" y1="2467.4" x2="817.6" y2="2493.1" stroke-width="5.3" stroke-linecap="butt"/>
<line x1="801.15" y1="2467.4" x2="834.05" y2="2467.4" stroke-width="5.3" stroke-linecap="round"/>
<line x1="817.6" y1="2526.1" x2="817.6" y2="2551.2" stroke-width="5.3" stroke-linecap="butt"/>
<line x1="801.15" y1="2551.2" x2="834.05" y2="2551.2" stroke-width="5.3" stroke-linecap="round"/>
<line x1="905.49" y1="2397.4" x2="905.49" y2="2416.3" stroke-width="5.3" stroke-linecap="butt"/>
<line x1="889.04" y1="2397.4" x2="921.94" y2="2397.4" stroke-width="5.3" stroke-linecap="round"/>
<line x1="905.49" y1="2449.3" x2="905.49" y2="2466.5" stroke-width="5.3" stroke-linecap="butt"/>
<line x1="889.04" y1="2466.5" x2="921.94" y2="2466.5" stroke-width="5.3" stroke-linecap="round"/>
<ellipse cx="553.95" cy="2697.5" rx="17.2" ry="17" stroke="none"/>
<ellipse cx="641.83" cy="2677.5" rx="17.2" ry="17" stroke="none"/>
<ellipse cx="729.72" cy="2621" rx="17.2" ry="17" stroke="none"/>
<ellipse cx="817.6" cy="2509.6" rx="17.2" ry="17" stroke="none"/>
<ellipse cx="905.49" cy="2432.8" rx="17.2" ry="17" stroke="none"/>
<ellipse cx="993.38" cy="2334.4" rx="17.2" ry="17" stroke="none"/>
<ellipse cx="1081.26" cy="2297.3" rx="17.2" ry="17" stroke="none"/>
<ellipse cx="1169.14" cy="2297.5" rx="17.2" ry="17" stroke="none"/>
<polyline fill="none" stroke-width="5" stroke-linejoin="round" stroke-linecap="round" points="378.18,2696.89 381.36,2696.19 384.53,2695.46 387.71,2694.72 390.89,2693.97 394.06,2693.2 397.24,2692.41 400.42,2691.6 403.59,2690.78 406.77,2689.94 409.95,2689.09 413.12,2688.21 416.3,2687.32 419.48,2686.41 422.65,2685.48 425.83,2684.53 429.01,2683.56 432.18,2682.56 435.36,2681.55 438.53,2680.52 441.71,2679.47 444.89,2678.39 448.06,2677.29 451.24,2676.17 454.42,2675.03 457.59,2673.86 460.77,2672.67 463.95,2671.46 467.12,2670.22 470.3,2668.96 473.48,2667.67 476.65,2666.35 479.83,2665.01 483.01,2663.64 486.18,2662.24 489.36,2660.82 492.54,2659.37 495.71,2657.89 498.89,2656.38 502.07,2654.84 505.24,2653.27 508.42,2651.67 511.6,2650.04 514.77,2648.38 517.95,2646.68 521.13,2644.95 524.3,2643.2 527.48,2641.4 530.66,2639.58 533.83,2637.71 537.01,2635.82 540.18,2633.89 543.36,2631.92 546.54,2629.92 549.71,2627.88 552.89,2625.8 556.07,2623.69 559.24,2621.53 562.42,2619.34 565.6,2617.11 568.77,2614.84 571.95,2612.53 575.13,2610.18 578.3,2607.79 581.48,2605.35 584.66,2602.88 587.83,2600.36 591.01,2597.8 594.19,2595.2 597.36,2592.55 600.54,2589.86 603.72,2587.12 606.89,2584.34 610.07,2581.52 613.25,2578.65 616.42,2575.73 619.6,2572.77 622.78,2569.76 625.95,2566.71 629.13,2563.61 632.31,2560.46 635.48,2557.26 638.66,2554.01 641.83,2550.72 645.01,2547.38 648.19,2543.99 651.36,2540.55 654.54,2537.07 657.72,2533.53 660.89,2529.94 664.07,2526.31 667.25,2522.63 670.42,2518.9 673.6,2515.12 676.78,2511.29 679.95,2507.41 683.13,2503.48 686.31,2499.5 689.48,2495.47 692.66,2491.4 695.84,2487.28 699.01,2483.11 702.19,2478.89 705.37,2474.62 708.54,2470.31 711.72,2465.94 714.9,2461.54 718.07,2457.08 721.25,2452.58 724.43,2448.04 727.6,2443.45 730.78,2438.81 733.96,2434.13 737.13,2429.41 740.31,2424.65 743.49,2419.84 746.66,2414.99 749.84,2410.11 753.01,2405.18 756.19,2400.21 759.37,2395.21 762.54,2390.17 765.72,2385.09 768.9,2379.98 772.07,2374.83 775.25,2369.65 778.43,2364.44 781.6,2359.19 784.78,2353.92 787.96,2348.61 791.13,2343.28 794.31,2337.92 797.49,2332.54 800.66,2327.13 803.84,2321.7 807.02,2316.25 810.19,2310.77 813.37,2305.28 816.55,2299.77 819.72,2294.24 822.9,2288.7 826.08,2283.14 829.25,2277.57 832.43,2271.99 835.61,2266.4 838.78,2260.8 841.96,2255.19 845.14,2249.58 848.31,2243.97 851.49,2238.35 854.66,2232.73 857.84,2227.11 861.02,2221.5 864.19,2215.88 867.37,2210.27 870.55,2204.67 873.72,2199.08 876.9,2193.49 880.08,2187.91 883.25,2182.35 886.43,2176.8 889.61,2171.26 892.78,2165.74 895.96,2160.24 899.14,2154.76 902.31,2149.29 905.49,2143.85 908.67,2138.43 911.84,2133.03 915.02,2127.66 918.2,2122.31 921.37,2116.99 924.55,2111.7 927.73,2106.44 930.9,2101.22 934.08,2096.02 937.26,2090.85 940.43,2085.72 943.61,2080.63 946.79,2075.57 949.96,2070.54 953.14,2065.56 956.32,2060.61 959.49,2055.7 962.67,2050.83 965.84,2046 969.02,2041.22 972.2,2036.47 975.37,2031.77 978.55,2027.12 981.73,2022.5 984.9,2017.93 988.08,2013.41 991.26,2008.93 994.43,2004.5 997.61,2000.11 1000.79,1995.78 1003.96,1991.48 1007.14,1987.24 1010.32,1983.04 1013.49,1978.9 1016.67,1974.8 1019.85,1970.75 1023.02,1966.74 1026.2,1962.79 1029.38,1958.88 1032.55,1955.03 1035.73,1951.22 1038.91,1947.47 1042.08,1943.76 1045.26,1940.1 1048.44,1936.49 1051.61,1932.93 1054.79,1929.41 1057.97,1925.95 1061.14,1922.54 1064.32,1919.17 1067.49,1915.85 1070.67,1912.58 1073.85,1909.36 1077.02,1906.19 1080.2,1903.06 1083.38,1899.98 1086.55,1896.95 1089.73,1893.96 1092.91,1891.02 1096.08,1888.13 1099.26,1885.28 1102.44,1882.48 1105.61,1879.72 1108.79,1877 1111.97,1874.33 1115.14,1871.71 1118.32,1869.13 1121.5,1866.59 1124.67,1864.09 1127.85,1861.63 1131.03,1859.22 1134.2,1856.85 1137.38,1854.52 1140.56,1852.23 1143.73,1849.97 1146.91,1847.76 1150.09,1845.59 1153.26,1843.45 1156.44,1841.36 1159.62,1839.3 1162.79,1837.28 1165.97,1835.29 1169.14,1833.34"/>
<polyline fill="none" stroke-width="5" stroke-linejoin="round" stroke-linecap="round" points="466.06,2696.55 468.89,2695.98 471.71,2695.39 474.54,2694.78 477.36,2694.15 480.18,2693.51 483.01,2692.85 485.83,2692.17 488.65,2691.47 491.48,2690.75 494.3,2690.02 497.12,2689.26 499.95,2688.48 502.77,2687.68 505.6,2686.85 508.42,2686.01 511.24,2685.14 514.07,2684.25 516.89,2683.33 519.71,2682.39 522.54,2681.42 525.36,2680.43 528.18,2679.41 531.01,2678.36 533.83,2677.28 536.66,2676.18 539.48,2675.05 542.3,2673.88 545.13,2672.69 547.95,2671.46 550.77,2670.21 553.6,2668.92 556.42,2667.59 559.24,2666.24 562.07,2664.84 564.89,2663.42 567.72,2661.95 570.54,2660.45 573.36,2658.91 576.19,2657.34 579.01,2655.72 581.83,2654.06 584.66,2652.37 587.48,2650.63 590.3,2648.85 593.13,2647.02 595.95,2645.15 598.77,2643.24 601.6,2641.29 604.42,2639.28 607.25,2637.23 610.07,2635.13 612.89,2632.99 615.72,2630.8 618.54,2628.55 621.36,2626.26 624.19,2623.91 627.01,2621.52 629.83,2619.07 632.66,2616.57 635.48,2614.02 638.31,2611.41 641.13,2608.75 643.95,2606.03 646.78,2603.26 649.6,2600.43 652.42,2597.54 655.25,2594.6 658.07,2591.6 660.89,2588.55 663.72,2585.44 666.54,2582.27 669.37,2579.04 672.19,2575.75 675.01,2572.4 677.84,2569 680.66,2565.54 683.48,2562.02 686.31,2558.44 689.13,2554.8 691.95,2551.11 694.78,2547.36 697.6,2543.55 700.42,2539.68 703.25,2535.76 706.07,2531.78 708.9,2527.75 711.72,2523.66 714.54,2519.52 717.37,2515.32 720.19,2511.07 723.01,2506.77 725.84,2502.42 728.66,2498.03 731.48,2493.58 734.31,2489.08 737.13,2484.54 739.96,2479.96 742.78,2475.33 745.6,2470.66 748.43,2465.95 751.25,2461.2 754.07,2456.42 756.9,2451.6 759.72,2446.74 762.54,2441.86 765.37,2436.94 768.19,2432 771.02,2427.03 773.84,2422.03 776.66,2417.02 779.49,2411.98 782.31,2406.93 785.13,2401.86 787.96,2396.77 790.78,2391.68 793.6,2386.57 796.43,2381.46 799.25,2376.35 802.08,2371.23 804.9,2366.11 807.72,2361 810.55,2355.88 813.37,2350.78 816.19,2345.68 819.02,2340.6 821.84,2335.52 824.66,2330.47 827.49,2325.43 830.31,2320.41 833.13,2315.41 835.96,2310.43 838.78,2305.48 841.61,2300.56 844.43,2295.67 847.25,2290.8 850.08,2285.98 852.9,2281.18 855.72,2276.43 858.55,2271.71 861.37,2267.03 864.19,2262.39 867.02,2257.8 869.84,2253.25 872.67,2248.74 875.49,2244.29 878.31,2239.88 881.14,2235.52 883.96,2231.2 886.78,2226.95 889.61,2222.74 892.43,2218.58 895.25,2214.48 898.08,2210.44 900.9,2206.45 903.73,2202.51 906.55,2198.64 909.37,2194.81 912.2,2191.05 915.02,2187.34 917.84,2183.69 920.67,2180.1 923.49,2176.57 926.31,2173.09 929.14,2169.68 931.96,2166.32 934.78,2163.02 937.61,2159.78 940.43,2156.6 943.26,2153.47 946.08,2150.4 948.9,2147.39 951.73,2144.44 954.55,2141.54 957.37,2138.7 960.2,2135.92 963.02,2133.19 965.84,2130.51 968.67,2127.89 971.49,2125.33 974.32,2122.82 977.14,2120.36 979.96,2117.95 982.79,2115.59 985.61,2113.29 988.43,2111.03 991.26,2108.83 994.08,2106.67 996.9,2104.57 999.73,2102.51 1002.55,2100.49 1005.38,2098.52 1008.2,2096.6 1011.02,2094.73 1013.85,2092.89 1016.67,2091.1 1019.49,2089.35 1022.32,2087.65 1025.14,2085.98 1027.96,2084.36 1030.79,2082.77 1033.61,2081.22 1036.44,2079.72 1039.26,2078.24 1042.08,2076.81 1044.91,2075.41 1047.73,2074.04 1050.55,2072.71 1053.38,2071.41 1056.2,2070.15 1059.02,2068.92 1061.85,2067.72 1064.67,2066.55 1067.49,2065.41 1070.32,2064.3 1073.14,2063.22 1075.97,2062.16 1078.79,2061.14 1081.61,2060.14 1084.44,2059.16 1087.26,2058.22 1090.08,2057.3 1092.91,2056.4 1095.73,2055.52 1098.55,2054.67 1101.38,2053.85 1104.2,2053.04 1107.03,2052.26 1109.85,2051.49 1112.67,2050.75 1115.5,2050.03 1118.32,2049.33 1121.14,2048.64 1123.97,2047.98 1126.79,2047.33 1129.61,2046.7 1132.44,2046.09 1135.26,2045.49 1138.09,2044.91 1140.91,2044.35 1143.73,2043.8 1146.56,2043.27 1149.38,2042.75 1152.2,2042.25 1155.03,2041.76 1157.85,2041.29 1160.67,2040.82 1163.5,2040.37 1166.32,2039.94 1169.14,2039.51"/>
<polyline fill="none" stroke-width="5" stroke-linejoin="round" stroke-linecap="round" points="510.01,2696.8 512.65,2696.66 515.3,2696.51 517.95,2696.34 520.6,2696.16 523.24,2695.96 525.89,2695.75 528.54,2695.53 531.18,2695.3 533.83,2695.04 536.48,2694.78 539.13,2694.5 541.77,2694.2 544.42,2693.89 547.07,2693.57 549.71,2693.23 552.36,2692.87 555.01,2692.5 557.66,2692.11 560.3,2691.71 562.95,2691.29 565.6,2690.85 568.24,2690.4 570.89,2689.93 573.54,2689.44 576.19,2688.93 578.83,2688.4 581.48,2687.86 584.13,2687.3 586.77,2686.71 589.42,2686.11 592.07,2685.49 594.72,2684.85 597.36,2684.18 600.01,2683.5 602.66,2682.79 605.3,2682.06 607.95,2681.32 610.6,2680.54 613.25,2679.75 615.89,2678.93 618.54,2678.09 621.19,2677.22 623.83,2676.33 626.48,2675.41 629.13,2674.47 631.78,2673.5 634.42,2672.51 637.07,2671.48 639.72,2670.44 642.36,2669.36 645.01,2668.25 647.66,2667.12 650.31,2665.96 652.95,2664.77 655.6,2663.54 658.25,2662.29 660.89,2661.01 663.54,2659.69 666.19,2658.35 668.84,2656.97 671.48,2655.56 674.13,2654.11 676.78,2652.63 679.42,2651.12 682.07,2649.58 684.72,2648 687.37,2646.38 690.01,2644.73 692.66,2643.04 695.31,2641.32 697.95,2639.56 700.6,2637.77 703.25,2635.94 705.9,2634.07 708.54,2632.17 711.19,2630.22 713.84,2628.24 716.48,2626.23 719.13,2624.17 721.78,2622.08 724.43,2619.95 727.07,2617.78 729.72,2615.58 732.37,2613.33 735.01,2611.05 737.66,2608.73 740.31,2606.38 742.96,2603.98 745.6,2601.55 748.25,2599.09 750.9,2596.58 753.54,2594.05 756.19,2591.47 758.84,2588.86 761.49,2586.22 764.13,2583.54 766.78,2580.83 769.43,2578.08 772.07,2575.31 774.72,2572.5 777.37,2569.66 780.02,2566.79 782.66,2563.89 785.31,2560.97 787.96,2558.01 790.6,2555.03 793.25,2552.03 795.9,2549 798.55,2545.94 801.19,2542.87 803.84,2539.77 806.49,2536.65 809.13,2533.52 811.78,2530.37 814.43,2527.2 817.08,2524.01 819.72,2520.82 822.37,2517.61 825.02,2514.39 827.66,2511.16 830.31,2507.92 832.96,2504.68 835.61,2501.43 838.25,2498.17 840.9,2494.92 843.55,2491.66 846.19,2488.41 848.84,2485.15 851.49,2481.9 854.14,2478.66 856.78,2475.42 859.43,2472.19 862.08,2468.97 864.72,2465.76 867.37,2462.56 870.02,2459.37 872.67,2456.2 875.31,2453.04 877.96,2449.91 880.61,2446.79 883.25,2443.69 885.9,2440.61 888.55,2437.55 891.2,2434.51 893.84,2431.5 896.49,2428.52 899.14,2425.56 901.78,2422.63 904.43,2419.72 907.08,2416.85 909.73,2414 912.37,2411.19 915.02,2408.4 917.67,2405.65 920.31,2402.93 922.96,2400.25 925.61,2397.6 928.26,2394.98 930.9,2392.39 933.55,2389.85 936.2,2387.33 938.84,2384.86 941.49,2382.42 944.14,2380.01 946.79,2377.65 949.43,2375.32 952.08,2373.02 954.73,2370.77 957.37,2368.55 960.02,2366.37 962.67,2364.22 965.32,2362.12 967.96,2360.05 970.61,2358.02 973.26,2356.02 975.9,2354.06 978.55,2352.14 981.2,2350.26 983.85,2348.41 986.49,2346.6 989.14,2344.82 991.79,2343.08 994.43,2341.37 997.08,2339.7 999.73,2338.06 1002.38,2336.46 1005.02,2334.89 1007.67,2333.36 1010.32,2331.85 1012.96,2330.38 1015.61,2328.95 1018.26,2327.54 1020.91,2326.17 1023.55,2324.82 1026.2,2323.51 1028.85,2322.23 1031.49,2320.97 1034.14,2319.75 1036.79,2318.55 1039.44,2317.39 1042.08,2316.25 1044.73,2315.13 1047.38,2314.05 1050.02,2312.99 1052.67,2311.95 1055.32,2310.94 1057.97,2309.96 1060.61,2309 1063.26,2308.06 1065.91,2307.15 1068.55,2306.26 1071.2,2305.39 1073.85,2304.54 1076.5,2303.72 1079.14,2302.91 1081.79,2302.13 1084.44,2301.37 1087.08,2300.62 1089.73,2299.9 1092.38,2299.19 1095.03,2298.51 1097.67,2297.84 1100.32,2297.19 1102.97,2296.55 1105.61,2295.93 1108.26,2295.33 1110.91,2294.75 1113.56,2294.18 1116.2,2293.62 1118.85,2293.08 1121.5,2292.56 1124.14,2292.05 1126.79,2291.55 1129.44,2291.07 1132.09,2290.6 1134.73,2290.14 1137.38,2289.69 1140.03,2289.26 1142.67,2288.84 1145.32,2288.43 1147.97,2288.03 1150.62,2287.64 1153.26,2287.27 1155.91,2286.9 1158.56,2286.54 1161.2,2286.2 1163.85,2285.86 1166.5,2285.53 1169.14,2285.21"/>
<polyline fill="none" stroke-width="5" stroke-linejoin="round" stroke-linecap="round" points="510.01,2696.8 513.36,2696.6 516.71,2696.38 520.07,2696.14 523.42,2695.89 526.77,2695.62 530.13,2695.33 533.48,2695.03 536.83,2694.71 540.18,2694.38 543.54,2694.03 546.89,2693.66 550.24,2693.28 553.6,2692.88 556.95,2692.46 560.3,2692.03 563.66,2691.58 567.01,2691.12 570.36,2690.64 573.72,2690.14 577.07,2689.63 580.42,2689.1 583.77,2688.55 587.13,2687.99 590.48,2687.41 593.83,2686.81 597.19,2686.19 600.54,2685.55 603.89,2684.9 607.25,2684.23 610.6,2683.54 613.95,2682.84 617.3,2682.11 620.66,2681.36 624.01,2680.6 627.36,2679.82 630.72,2679.01 634.07,2678.19 637.42,2677.34 640.78,2676.48 644.13,2675.59 647.48,2674.69 650.84,2673.76 654.19,2672.81 657.54,2671.84 660.89,2670.84 664.25,2669.83 667.6,2668.79 670.95,2667.72 674.31,2666.64 677.66,2665.52 681.01,2664.39 684.37,2663.23 687.72,2662.04 691.07,2660.83 694.42,2659.59 697.78,2658.33 701.13,2657.03 704.48,2655.71 707.84,2654.37 711.19,2652.99 714.54,2651.59 717.9,2650.16 721.25,2648.69 724.6,2647.2 727.96,2645.68 731.31,2644.12 734.66,2642.54 738.01,2640.92 741.37,2639.27 744.72,2637.59 748.07,2635.87 751.43,2634.12 754.78,2632.34 758.13,2630.52 761.49,2628.66 764.84,2626.77 768.19,2624.84 771.54,2622.88 774.9,2620.88 778.25,2618.84 781.6,2616.76 784.96,2614.64 788.31,2612.48 791.66,2610.28 795.02,2608.05 798.37,2605.77 801.72,2603.44 805.08,2601.08 808.43,2598.67 811.78,2596.22 815.13,2593.73 818.49,2591.19 821.84,2588.61 825.19,2585.98 828.55,2583.3 831.9,2580.58 835.25,2577.81 838.61,2575 841.96,2572.14 845.31,2569.22 848.66,2566.26 852.02,2563.25 855.37,2560.19 858.72,2557.08 862.08,2553.92 865.43,2550.7 868.78,2547.44 872.14,2544.12 875.49,2540.75 878.84,2537.33 882.2,2533.86 885.55,2530.33 888.9,2526.74 892.25,2523.11 895.61,2519.41 898.96,2515.67 902.31,2511.87 905.67,2508.01 909.02,2504.1 912.37,2500.13 915.73,2496.1 919.08,2492.02 922.43,2487.89 925.78,2483.69 929.14,2479.44 932.49,2475.14 935.84,2470.77 939.2,2466.35 942.55,2461.88 945.9,2457.35 949.26,2452.76 952.61,2448.11 955.96,2443.41 959.32,2438.65 962.67,2433.84 966.02,2428.97 969.37,2424.04 972.73,2419.06 976.08,2414.03 979.43,2408.94 982.79,2403.8 986.14,2398.6 989.49,2393.35 992.85,2388.05 996.2,2382.7 999.55,2377.29 1002.9,2371.84 1006.26,2366.33 1009.61,2360.77 1012.96,2355.17 1016.32,2349.52 1019.67,2343.82 1023.02,2338.07 1026.38,2332.28 1029.73,2326.45 1033.08,2320.57 1036.44,2314.65 1039.79,2308.68 1043.14,2302.68 1046.49,2296.64 1049.85,2290.56 1053.2,2284.44 1056.55,2278.28 1059.91,2272.1 1063.26,2265.87 1066.61,2259.62 1069.97,2253.33 1073.32,2247.02 1076.67,2240.68 1080.02,2234.31 1083.38,2227.92 1086.73,2221.5 1090.08,2215.06 1093.44,2208.6 1096.79,2202.12 1100.14,2195.62 1103.5,2189.11 1106.85,2182.58 1110.2,2176.04 1113.56,2169.48 1116.91,2162.92 1120.26,2156.35 1123.61,2149.77 1126.97,2143.19 1130.32,2136.6 1133.67,2130.02 1137.03,2123.43 1140.38,2116.84 1143.73,2110.26 1147.09,2103.68 1150.44,2097.11 1153.79,2090.54 1157.14,2083.99 1160.5,2077.45 1163.85,2070.92 1167.2,2064.4 1170.56,2057.9 1173.91,2051.42 1177.26,2044.96 1180.62,2038.52 1183.97,2032.1 1187.32,2025.7 1190.68,2019.33 1194.03,2012.99 1197.38,2006.67 1200.73,2000.38 1204.09,1994.12 1207.44,1987.9 1210.79,1981.71 1214.15,1975.55 1217.5,1969.43 1220.85,1963.34 1224.21,1957.3 1227.56,1951.29 1230.91,1945.32 1234.26,1939.4 1237.62,1933.52 1240.97,1927.68 1244.32,1921.88 1247.68,1916.13 1251.03,1910.43 1254.38,1904.77 1257.74,1899.16 1261.09,1893.6 1264.44,1888.09 1267.8,1882.63 1271.15,1877.22 1274.5,1871.86 1277.85,1866.55 1281.21,1861.3 1284.56,1856.1 1287.91,1850.95 1291.27,1845.85 1294.62,1840.81 1297.97,1835.83 1301.33,1830.9 1304.68,1826.02 1308.03,1821.2 1311.38,1816.44 1314.74,1811.73 1318.09,1807.08 1321.44,1802.48 1324.8,1797.94 1328.15,1793.46 1331.5,1789.04 1334.86,1784.67 1338.21,1780.35 1341.56,1776.1 1344.91,1771.9"/>
</g>
</g>
</svg>
</body></html>
